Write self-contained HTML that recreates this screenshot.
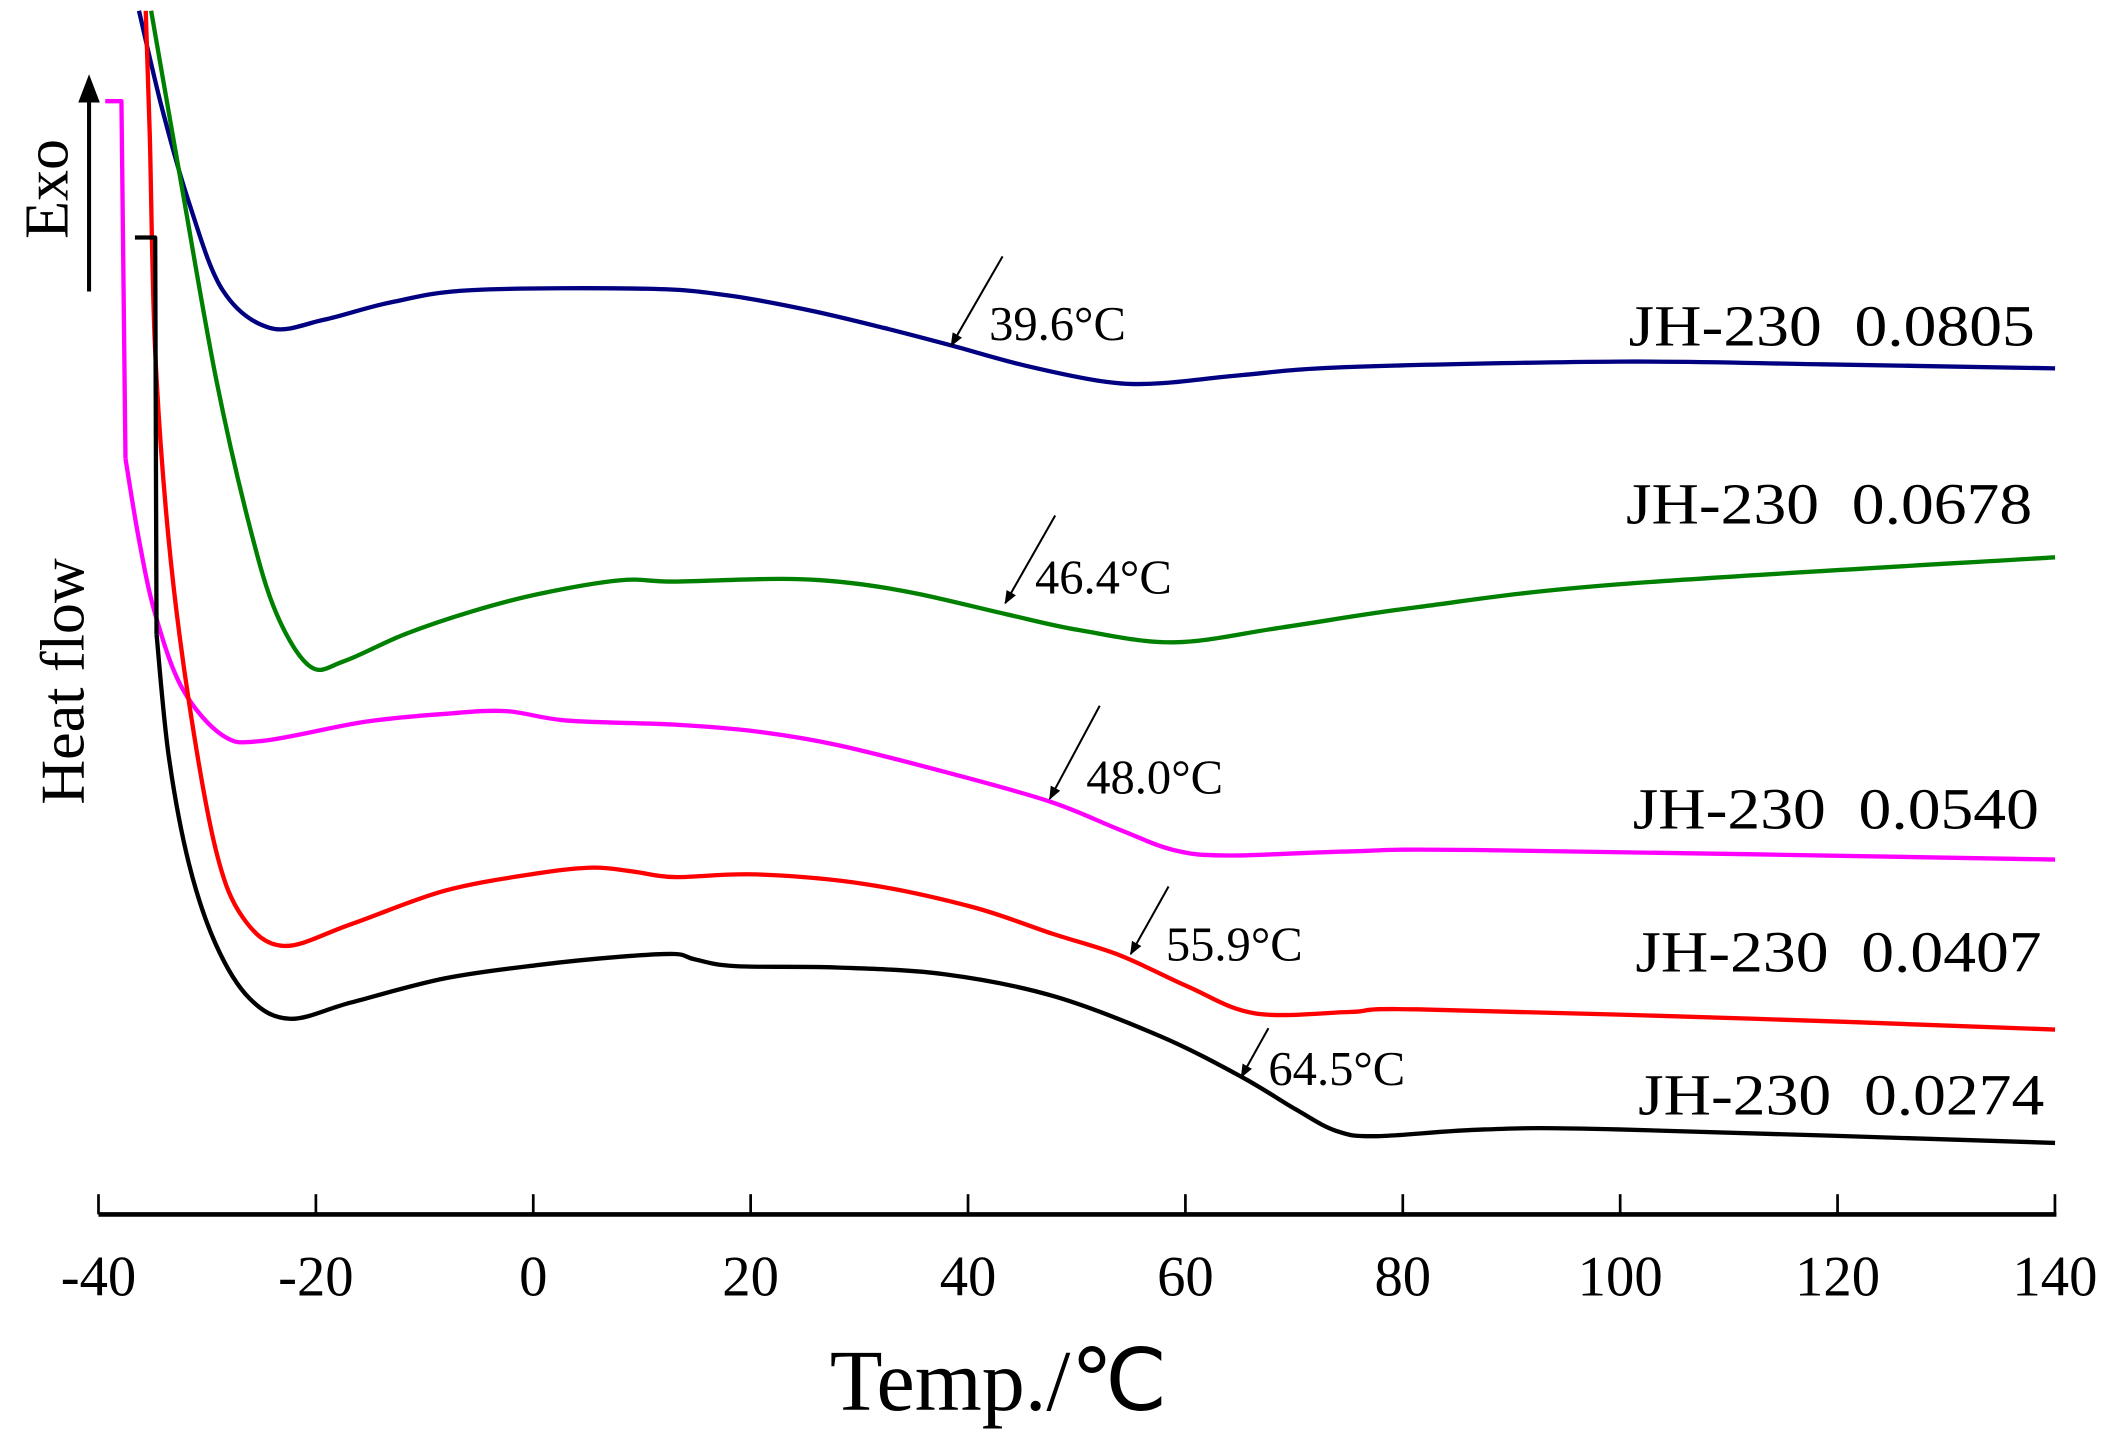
<!DOCTYPE html>
<html><head><meta charset="utf-8"><style>
html,body{margin:0;padding:0;background:#fff;}
svg{display:block;}
text{font-family:"Liberation Serif",serif;fill:#000;white-space:pre;}
</style></head><body>
<svg id="s" width="2105" height="1431" viewBox="0 0 1560 1060.5" preserveAspectRatio="none" xmlns="http://www.w3.org/2000/svg">
<defs><marker id="ah" markerWidth="10" markerHeight="10" refX="9" refY="5" orient="auto" markerUnits="userSpaceOnUse"><path d="M0,1 L10,5 L0,9 z" fill="#000"/></marker></defs>
<line x1="73" y1="900" x2="1524" y2="900" stroke="#000" stroke-width="3.5"/>
<g stroke="#000" stroke-width="2" id="ticks"></g>
<g font-size="42" text-anchor="middle" id="tl"></g>
<text x="615" y="1045" font-size="64" textLength="250" lengthAdjust="spacingAndGlyphs">Temp./℃</text>
<text transform="translate(50,140) rotate(-90)" font-size="46" text-anchor="middle">Exo</text>
<text transform="translate(62,505) rotate(-90)" font-size="46" text-anchor="middle">Heat flow</text>
<line x1="66" y1="216" x2="66" y2="72" stroke="#000" stroke-width="3"/>
<path d="M58,76 L66,55 L74,76 z" fill="#000"/>
<g id="curves" fill="none" stroke-width="3.2" stroke-linejoin="round"></g>
<g stroke="#000" stroke-width="1.5" id="arr"></g>
<g font-size="36">
<text x="733" y="252">39.6°C</text>
<text x="767" y="440">46.4°C</text>
<text x="805" y="588">48.0°C</text>
<text x="864" y="712">55.9°C</text>
<text x="940" y="804">64.5°C</text>
</g>
<g font-size="43">
<text x="1207" y="256" textLength="301" lengthAdjust="spacingAndGlyphs">JH-230  0.0805</text>
<text x="1205" y="388" textLength="301" lengthAdjust="spacingAndGlyphs">JH-230  0.0678</text>
<text x="1210" y="614" textLength="301" lengthAdjust="spacingAndGlyphs">JH-230  0.0540</text>
<text x="1212" y="720" textLength="301" lengthAdjust="spacingAndGlyphs">JH-230  0.0407</text>
<text x="1214" y="826" textLength="301" lengthAdjust="spacingAndGlyphs">JH-230  0.0274</text>
</g>
</svg>
<script>
var NS="http://www.w3.org/2000/svg";
function el(n,a,p){var e=document.createElementNS(NS,n);for(var k in a)e.setAttribute(k,a[k]);p.appendChild(e);return e;}
var tk=document.getElementById('ticks'),tl=document.getElementById('tl');
for(var i=0;i<=9;i++){var x=73+i*161.1;el('line',{x1:x,y1:885,x2:x,y2:900},tk);var t=el('text',{x:x,y:960},tl);t.textContent=(-40+i*20);}
function cr(p){var d="M"+p[0][0]+","+p[0][1];for(var i=0;i<p.length-1;i++){var p0=p[i-1]||p[i],p1=p[i],p2=p[i+1],p3=p[i+2]||p2;
d+=" C"+(p1[0]+(p2[0]-p0[0])/6)+","+(p1[1]+(p2[1]-p0[1])/6)+" "+(p2[0]-(p3[0]-p1[0])/6)+","+(p2[1]-(p3[1]-p1[1])/6)+" "+p2[0]+","+p2[1];}return d;}
var cv=document.getElementById('curves');
var C=[
["#000080",null,[[103,8],[120,80],[140,150],[165,215],[200,243],[240,237],[290,224],[350,215],[480,214],[540,219],[600,230],[655,243],[705,256],[760,271],[820,283],[860,284],[920,278],[1000,272],[1200,268],[1350,270],[1523,273]]],
["#008000",null,[[112,8],[135,140],[160,280],[185,390],[205,455],[230,494],[255,490],[300,470],[350,453],[400,440],[460,430],[500,431],[580,429],[630,432],[680,440],[745,455],[800,467],[870,476],[950,465],[1050,450],[1200,433],[1523,413]]],
["#ff00ff",[[78,75],[90,75],[93,340]],[[93,340],[103,400],[115,455],[135,510],[165,545],[195,549],[270,535],[330,529],[375,527],[420,534],[500,537],[560,542],[620,552],[700,572],[778,594],[830,615],[870,630],[910,634],[1000,631],[1100,630],[1523,637]]],
["#ff0000",null,[[108,8],[111,100],[115,260],[125,400],[140,520],[160,630],[180,680],[210,701],[260,685],[330,660],[400,647],[440,643],[470,646],[500,650],[560,648],[640,655],[720,672],[780,692],[830,708],[880,731],[930,751],[1000,750],[1050,748],[1300,755],[1523,763]]],
["#000000",[[100,176],[115,176],[116,470]],[[116,470],[125,560],[140,640],[160,700],[185,740],[215,755],[260,743],[330,725],[400,715],[460,709],[500,707],[515,711],[545,716],[620,717],[700,722],[780,738],[860,768],[920,798],[960,822],[990,838],[1020,842],[1100,837],[1200,837],[1523,847]]]
];
C.forEach(function(c){if(c[1])el('polyline',{points:c[1].map(function(p){return p.join(',')}).join(' '),stroke:c[0],'stroke-width':3.2,fill:'none'},cv);
el('path',{d:cr(c[2]),stroke:c[0]},cv);});
var ar=document.getElementById('arr');
[[743,190,705,256],[782,382,745,447],[815,523,778,592],[866,657,838,707],[940,762,920,798]].forEach(function(a){
el('line',{x1:a[0],y1:a[1],x2:a[2],y2:a[3],'marker-end':'url(#ah)'},ar);});
</script>
</body></html>
